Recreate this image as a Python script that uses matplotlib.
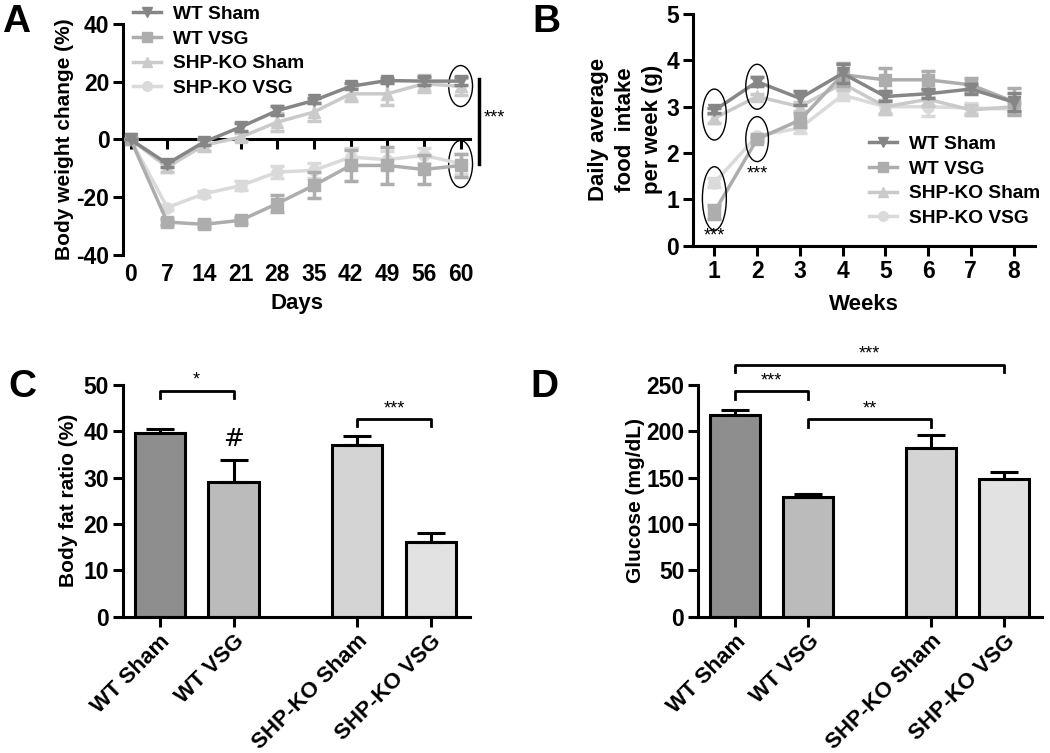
import matplotlib.pyplot as plt
import numpy as np
from matplotlib.patches import Ellipse
from matplotlib.lines import Line2D

plt.rcParams['font.family'] = ['Liberation Sans', 'DejaVu Sans']
plt.rcParams['font.weight'] = 'bold'
plt.rcParams['axes.unicode_minus'] = False

groups = ['WT Sham', 'WT VSG', 'SHP-KO Sham', 'SHP-KO VSG']
line_colors = ['#868686', '#adadad', '#cacaca', '#dadada']
markers = ['v', 's', '^', 'o']
bar_colors = ['#8e8e8e', '#bbbbbb', '#d4d4d4', '#e2e2e2']

# panel A: body weight change (%)
days = ['0', '7', '14', '21', '28', '35', '42', '49', '56', '60']
bw_mean = [
    [0, -8.4, -0.9, 4.3, 10.0, 13.5, 18.4, 20.4, 20.2, 20.2],
    [0, -28.6, -29.4, -28.0, -22.2, -15.9, -9.0, -9.0, -10.4, -9.0],
    [0, -9.6, -2.0, 0.8, 6.0, 9.5, 15.8, 15.8, 19.3, 18.4],
    [0, -23.6, -18.8, -16.0, -11.3, -10.7, -6.1, -7.0, -5.5, -8.4],
]
bw_err = [
    [0, 1.0, 1.0, 1.5, 1.5, 1.0, 1.0, 1.0, 1.5, 1.5],
    [0, 1.0, 1.0, 1.0, 3.0, 4.5, 5.5, 6.5, 5.0, 4.0],
    [0, 1.5, 2.0, 1.5, 3.0, 3.0, 2.5, 4.0, 3.0, 3.0],
    [0, 1.0, 1.0, 1.5, 2.0, 2.5, 3.0, 3.0, 2.5, 3.5],
]

# panel B: daily food intake per week (g)
weeks = [1, 2, 3, 4, 5, 6, 7, 8]
food_mean = [
    [2.92, 3.54, 3.18, 3.72, 3.22, 3.28, 3.38, 3.10],
    [0.73, 2.30, 2.71, 3.69, 3.58, 3.58, 3.47, 3.11],
    [2.75, 3.22, 3.00, 3.50, 3.00, 3.16, 2.93, 3.00],
    [1.36, 2.37, 2.54, 3.25, 3.00, 3.00, 2.97, 2.95],
]
food_err = [
    [0.05, 0.10, 0.15, 0.20, 0.10, 0.10, 0.10, 0.20],
    [0.15, 0.05, 0.15, 0.25, 0.25, 0.20, 0.15, 0.30],
    [0.10, 0.05, 0.10, 0.15, 0.15, 0.15, 0.10, 0.10],
    [0.10, 0.05, 0.10, 0.10, 0.15, 0.20, 0.10, 0.10],
]

# panel C/D bars
bar_pos = [0, 1, 2.67, 3.67]
fat_mean = [39.7, 29.0, 37.0, 16.2]
fat_err = [0.8, 4.8, 2.0, 1.8]
glu_mean = [218, 129, 182, 149]
glu_err = [5, 3, 14, 7]

fig = plt.figure(figsize=(10.5, 7.53), dpi=100)
axA = fig.add_axes([0.1174, 0.6614, 0.330, 0.3068])
axB = fig.add_axes([0.660, 0.6737, 0.3257, 0.3077])
axC = fig.add_axes([0.1169, 0.181, 0.3307, 0.3077])
axD = fig.add_axes([0.665, 0.181, 0.327, 0.3077])

tick_fs = 16.5
lab_fs = 15
star_fs = 13
leg_fs = 13.8


def style(ax):
    for s in ['top', 'right']:
        ax.spines[s].set_visible(False)
    for s in ['left', 'bottom']:
        ax.spines[s].set_linewidth(2.2)
    ax.tick_params(width=2.2, length=7, labelsize=tick_fs, pad=3)


def bracket(ax, x1, x2, y, txt, h):
    ax.plot([x1, x1, x2, x2], [y - h, y, y, y - h], color='black', lw=2, clip_on=False)
    ax.text((x1 + x2) / 2, y + h * 0.3, txt, ha='center', va='bottom',
            fontsize=star_fs, fontweight='normal')


def add_legend(ax, anchor):
    handles = [Line2D([], [], color=line_colors[i], marker=markers[i], ms=7, lw=2.5)
               for i in range(4)]
    ax.legend(handles, groups, loc='upper left', bbox_to_anchor=anchor,
              frameon=False, fontsize=leg_fs, handlelength=1.45, labelspacing=0.38,
              handletextpad=0.65, borderaxespad=0, borderpad=0)


# ---- A
style(axA)
xi = np.arange(len(days))
for i in range(4):
    axA.errorbar(xi, bw_mean[i], yerr=bw_err[i], color=line_colors[i], marker=markers[i],
                 ms=8, lw=2.5, capsize=5, capthick=2.5, elinewidth=2.5, zorder=5 - i)
axA.set_xlim(-0.2, 9.25)
axA.set_ylim(-40, 40)
axA.set_yticks([-40, -20, 0, 20, 40])
axA.spines['bottom'].set_position(('data', 0))
axA.set_xticks(xi)
axA.tick_params(axis='x', labelbottom=False)
secA = axA.secondary_xaxis(-0.0)
secA.set_xticks(xi)
secA.set_xticklabels(days)
secA.spines['bottom'].set_visible(False)
secA.tick_params(length=0, labelsize=tick_fs, pad=6)
secA.set_xlabel('Days', fontsize=lab_fs + 1, fontweight='bold', labelpad=5)
axA.set_ylabel('Body weight change (%)', fontsize=lab_fs, fontweight='bold', labelpad=2)
add_legend(axA, (0.028, 1.08))
for yc, hh in [(18.5, 14.2), (-8.5, 16.3)]:
    axA.add_patch(Ellipse((9, yc), 0.65, hh, fill=False, color='black', lw=1, clip_on=False))
axA.plot([9.49, 9.49], [21, -8.4], color='black', lw=2.5, clip_on=False)
axA.text(9.62, 7.3, '***', fontsize=star_fs, fontweight='normal', va='center', ha='left')
fig.text(0.002, 0.995, 'A', fontsize=28, fontweight='bold', va='top', ha='left')

# ---- B
style(axB)
for i in range(4):
    axB.errorbar(weeks, food_mean[i], yerr=food_err[i], color=line_colors[i], marker=markers[i],
                 ms=8, lw=2.5, capsize=5, capthick=2.5, elinewidth=2.5, zorder=5 - i)
axB.set_xlim(0.5, 8.5)
axB.set_ylim(0, 5)
axB.set_xticks(weeks)
axB.set_yticks([0, 1, 2, 3, 4, 5])
axB.set_xlabel('Weeks', fontsize=lab_fs + 1, fontweight='bold', labelpad=8)
axB.set_ylabel('Daily average\nfood  intake\nper week (g)', fontsize=lab_fs + 1,
               fontweight='bold', labelpad=2, linespacing=1.4)
add_legend(axB, (0.515, 0.475))
for xc, yc, ww, hh in [(1, 2.83, 0.56, 1.1), (1, 1.02, 0.56, 1.37),
                       (2, 3.43, 0.53, 0.97), (2, 2.30, 0.53, 0.97)]:
    axB.add_patch(Ellipse((xc, yc), ww, hh, fill=False, color='black', lw=1, zorder=6))
axB.text(1, 0.2, '***', fontsize=star_fs, fontweight='normal', ha='center', va='center')
axB.text(2, 1.55, '***', fontsize=star_fs, fontweight='normal', ha='center', va='center')
fig.text(0.507, 0.995, 'B', fontsize=28, fontweight='bold', va='top', ha='left')

# ---- C
style(axC)
axC.bar(bar_pos, fat_mean, width=0.68, color=bar_colors, edgecolor='black', lw=2.2)
axC.errorbar(bar_pos, fat_mean, yerr=[[0] * 4, fat_err], fmt='none', ecolor='black',
             elinewidth=2.2, capsize=10, capthick=2.2)
axC.set_xlim(-0.5, 4.2)
axC.set_ylim(0, 50)
axC.set_yticks([0, 10, 20, 30, 40, 50])
axC.set_xticks(bar_pos)
axC.set_xticklabels(groups, rotation=45, ha='right', rotation_mode='anchor', fontsize=16)
axC.set_ylabel('Body fat ratio (%)', fontsize=lab_fs, fontweight='bold', labelpad=4)
bracket(axC, bar_pos[0], bar_pos[1], 48.8, '*', 1.5)
bracket(axC, bar_pos[2], bar_pos[3], 42.6, '***', 1.5)
axC.text(bar_pos[1], fat_mean[1] + fat_err[1] + 2, '#', fontsize=18, fontweight='normal',
         ha='center', va='bottom', family='DejaVu Sans')
fig.text(0.008, 0.51, 'C', fontsize=28, fontweight='bold', va='top', ha='left')

# ---- D
style(axD)
axD.bar(bar_pos, glu_mean, width=0.68, color=bar_colors, edgecolor='black', lw=2.2)
axD.errorbar(bar_pos, glu_mean, yerr=[[0] * 4, glu_err], fmt='none', ecolor='black',
             elinewidth=2.2, capsize=10, capthick=2.2)
axD.set_xlim(-0.5, 4.18)
axD.set_ylim(0, 250)
axD.set_yticks([0, 50, 100, 150, 200, 250])
axD.set_xticks(bar_pos)
axD.set_xticklabels(groups, rotation=45, ha='right', rotation_mode='anchor', fontsize=16)
axD.set_ylabel('Glucose (mg/dL)', fontsize=lab_fs, fontweight='bold', labelpad=1)
bracket(axD, bar_pos[0], bar_pos[1], 243, '***', 8)
bracket(axD, bar_pos[1], bar_pos[2], 213, '**', 8)
bracket(axD, bar_pos[0], bar_pos[3], 272, '***', 8)
fig.text(0.505, 0.51, 'D', fontsize=28, fontweight='bold', va='top', ha='left')

fig.savefig('out.png', dpi=100)
